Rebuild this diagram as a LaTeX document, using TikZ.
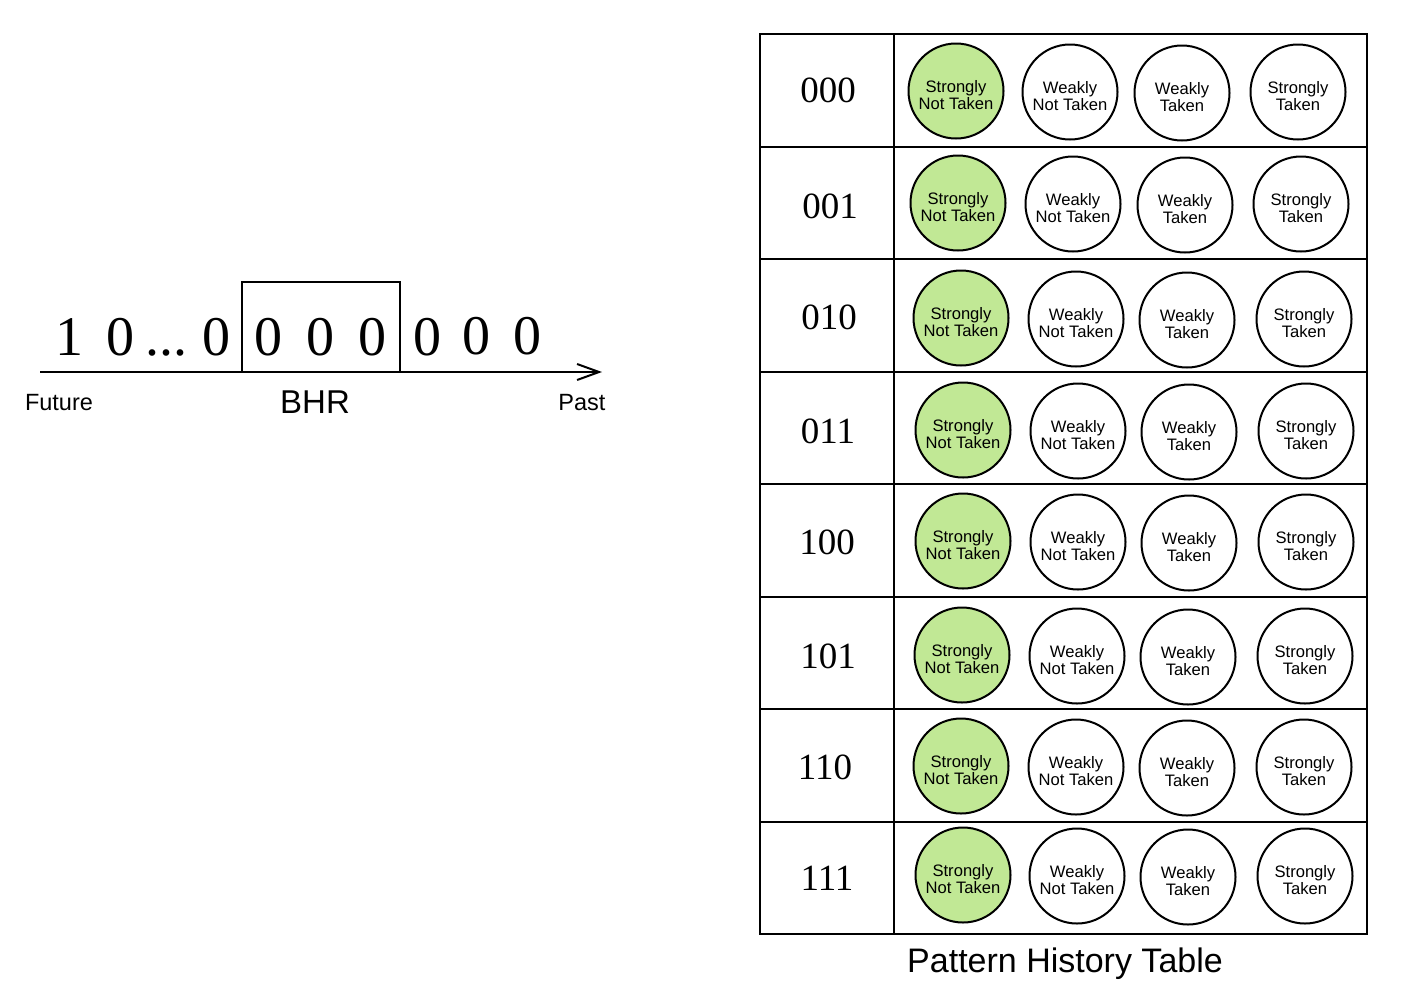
\documentclass[tikz,border=0pt]{standalone}
\usepackage{fontspec}
\setmainfont{Liberation Serif}
\setsansfont{Liberation Sans}
\usetikzlibrary{arrows.meta}
\definecolor{sntgreen}{RGB}{193,232,149}
\tikzset{
  bit/.style={anchor=base, inner sep=0pt, font=\fontsize{56}{60}\selectfont},
  idx/.style={inner sep=0pt, font=\fontsize{37}{40}\selectfont},
  axislabel/.style={inner sep=0pt, font=\sffamily\fontsize{23.5}{27}\selectfont},
  statetext/.style={inner sep=0pt, yshift=-4pt, align=center,
    font=\sffamily\fontsize{16.6}{14.3}\selectfont},
  counter/.style={circle, draw, line width=2pt, minimum size=95pt, inner sep=0pt,
    label={[statetext]center:{#1}}},
  frame/.style={line width=2.5pt},
  rule/.style={line width=2pt},
}
\begin{document}
\begin{tikzpicture}[x=1pt,y=-1pt]
\useasboundingbox (0,0) rectangle (1408,989);

% global history register on a time axis
\coordinate (future) at (40,372);
\coordinate (past) at (602,372);
\node[draw, line width=2pt, minimum width=158pt, minimum height=90pt, inner sep=0pt] (bhr) at (321,327) {};
\draw[line width=2pt, -{Straight Barb[length=22pt,width=16pt]}] (future) -- (past);

\node[bit] (b1) at (69,355) {1};
\node[bit] (b2) at (120,355) {0};
\node[bit] (dots) at (166,355) {...};
\node[bit] (b3) at (216,355) {0};
\node[bit] (b4) at (268,355) {0};
\node[bit] (b5) at (320,355) {0};
\node[bit] (b6) at (372,355) {0};
\node[bit] (b7) at (427,355) {0};
\node[bit] (b8) at (476,354) {0};
\node[bit] (b9) at (527,354) {0};

\node[axislabel] (lfuture) at (59,403) {Future};
\node[inner sep=0pt, font=\sffamily\fontsize{33}{36}\selectfont] (lbhr) at (315,402) {BHR};
\node[axislabel] (lpast) at (582,403) {Past};

% pattern history table
\draw[frame] (760,34) rectangle (1367,934);
\draw[rule] (894,34) -- (894,934);
\foreach \y in {147,259,372,484,597,709,822}
  \draw[frame] (760,\y) -- (1367,\y);

\foreach \r/\code/\lx/\ly/\y/\xa/\xb/\xc/\xd in {
  0/000/828/90/91/956/1070/1182/1298,
  1/001/830/206/203/958/1073/1185/1301,
  2/010/829/317/318/961/1076/1187/1304,
  3/011/828/431/430/963/1078/1189/1306,
  4/100/827/542/541/963/1078/1189/1306,
  5/101/828/656/655/962/1077/1188/1305,
  6/110/825/767/766/961/1076/1187/1304,
  7/111/827/878/875/963/1077/1188/1305}{
  \node[idx] (idx\r) at (\lx,\ly) {\code};
  \node[counter={Strongly\\Not Taken}, fill=sntgreen] (sn\r) at (\xa,\y) {};
  \node[counter={Weakly\\Not Taken}] (wn\r) at (\xb,\y+1) {};
  \node[counter={Weakly\\Taken}] (wt\r) at (\xc,\y+2) {};
  \node[counter={Strongly\\Taken}] (st\r) at (\xd,\y+1) {};
}

\node[inner sep=0pt, font=\sffamily\fontsize{34}{38}\selectfont] (caption) at (1065,964) {Pattern History Table};
\end{tikzpicture}
\end{document}
